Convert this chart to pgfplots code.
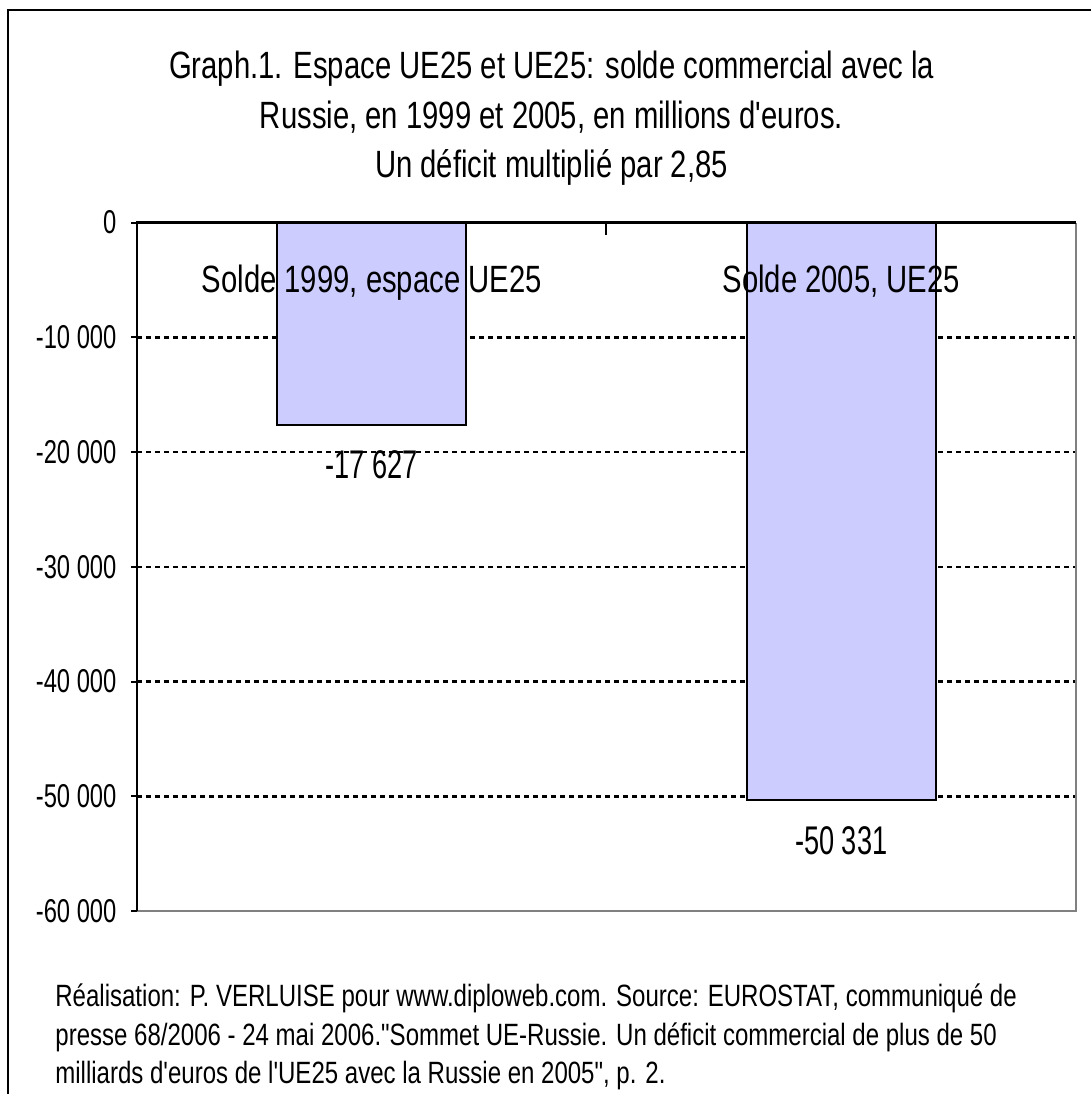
\documentclass[border=0pt]{standalone}
\usepackage{fontspec}
\setmainfont{Liberation Sans}
\newfontfamily\fA{Liberation Sans}[FakeStretch=0.77]
\newfontfamily\fT{Liberation Sans}[FakeStretch=0.72]
\newfontfamily\fV{Liberation Sans}[FakeStretch=0.68]
\newfontfamily\fN{Liberation Sans}[FakeStretch=0.78]
\usepackage{pgfplots}
\usepackage{pgfplotstable}
\pgfplotsset{compat=1.18}
\definecolor{barfill}{HTML}{CCCCFF}
\definecolor{bordergray}{HTML}{808080}

\pgfplotstableread[col sep=comma]{
x,y,lab
0,-17627,-17 627
1,-50331,-50 331
}\datatable

\begin{document}
\begin{tikzpicture}
\path[use as bounding box] (0,0) rectangle (545.5pt,-547pt);
\draw[line width=1.2pt] (546pt,-5pt) -- (4pt,-5pt) -- (4pt,-548pt);
\begin{axis}[
  at={(68.5pt,-455.5pt)}, anchor=south west,
  scale only axis, width=469.5pt, height=344.2pt,
  xmin=-0.5, xmax=1.5, ymin=-60000, ymax=0,
  ybar, bar width=94.5pt,
  xtick=\empty,
  scaled y ticks=false,
  ytick={-50000,-40000,-30000,-20000,-10000},
  yticklabels={-50 000,-40 000,-30 000,-20 000,-10 000},
  extra y ticks={-60000,0}, extra y tick labels={-60 000,0},
  extra y tick style={grid=none},
  ymajorgrids,
  grid style={black, line width=1.3pt, dash pattern=on 2.6pt off 1.9pt},
  ytick pos=left, tick align=center, major tick length=5.5pt,
  tick style={black, line width=1pt},
  yticklabel style={font=\fT\fontsize{16.5}{16.5}\selectfont, anchor=east, xshift=-4pt},
  axis line style={draw=none},
  clip=false,
  point meta=explicit symbolic,
  nodes near coords,
  every node near coord/.append style={font=\fV\fontsize{20}{20}\selectfont, anchor=base, yshift=-27pt, text=black},
]
\addplot[fill=barfill, draw=black, line width=1pt] table[x=x, y=y, meta=lab] {\datatable};
\draw[bordergray, line width=1pt] (rel axis cs:0,0) -- (rel axis cs:1,0) -- (rel axis cs:1,1);
\draw[black, line width=1.2pt] (rel axis cs:0,0) -- (rel axis cs:0,1) -- (rel axis cs:1,1);
\draw[black, line width=1pt] (axis cs:0.5,0) -- ([yshift=-6pt]axis cs:0.5,0);
\node[anchor=base, font=\fA\fontsize{19}{19}\selectfont] at (axis cs:0,-6050) {Solde 1999, espace UE25};
\node[anchor=base, font=\fA\fontsize{19}{19}\selectfont] at (axis cs:1,-6050) {Solde 2005, UE25};
\end{axis}
\begin{scope}[font=\fA\fontsize{19}{19}\selectfont]
\node[anchor=base] at (275.75pt,-39pt) {Graph.1. Espace UE25 et UE25: solde commercial avec la};
\node[anchor=base] at (275.75pt,-64pt) {Russie, en 1999 et 2005, en millions d'euros.};
\node[anchor=base] at (275.75pt,-88.5pt) {Un déficit multiplié par 2,85};
\end{scope}
\begin{scope}[font=\fN\fontsize{15.4}{15.4}\selectfont]
\node[anchor=base west, inner sep=0pt] at (27.5pt,-503.3pt) {Réalisation: P. VERLUISE pour www.diploweb.com. Source: EUROSTAT, communiqué de};
\node[anchor=base west, inner sep=0pt] at (27.5pt,-522.5pt) {presse 68/2006 - 24 mai 2006."Sommet UE-Russie. Un déficit commercial de plus de 50};
\node[anchor=base west, inner sep=0pt] at (27.5pt,-541.5pt) {milliards d'euros de l'UE25 avec la Russie en 2005", p. 2.};
\end{scope}
\end{tikzpicture}
\end{document}
